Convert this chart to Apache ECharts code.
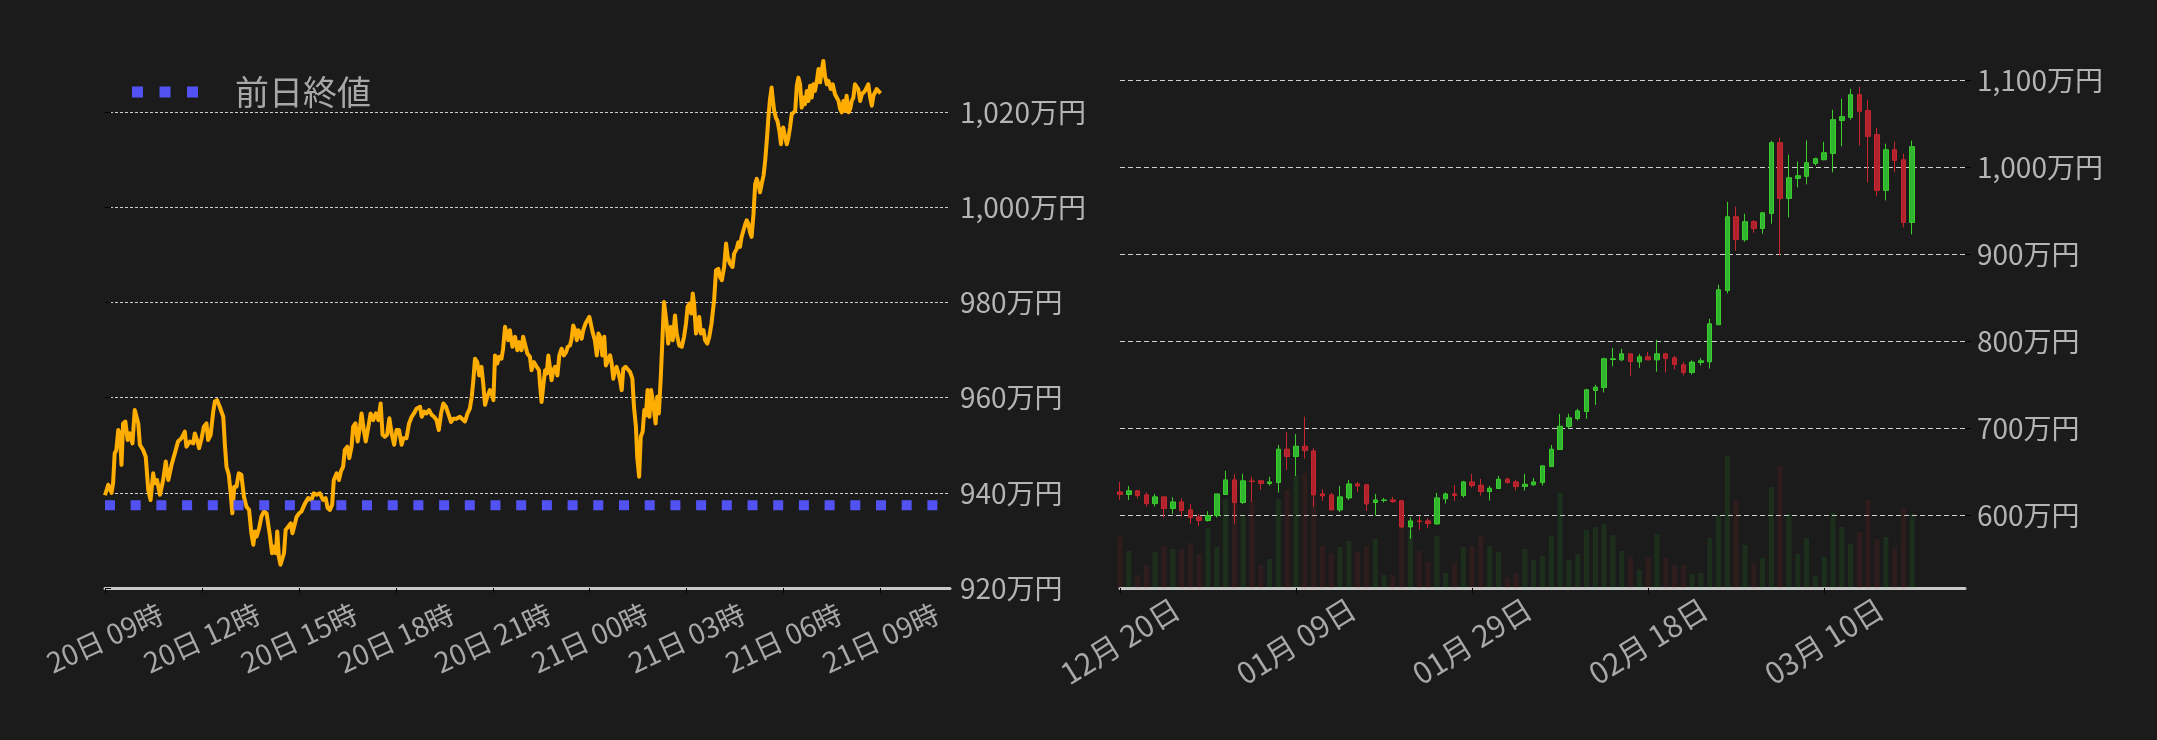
<!DOCTYPE html>
<html>
<head>
<meta charset="utf-8">
<script src="https://cdn.jsdelivr.net/npm/echarts@6/dist/echarts.min.js"></script>
<style>
html,body{margin:0;padding:0;background:#1b1b1b;}
#chart{width:2157px;height:740px;}
</style>
</head>
<body>
<div id="chart"></div>
<script>
// ---------- Left chart: intraday price (hours after 20日 09時, 万円) ----------
const startDay = 20;
const startHour = 9;
const prevCloseName = '前日終値';
const prevClose = 937.4;
const priceLine = [
[0,939.5],[0.10,941.7],[0.20,940.0],[0.25,942.0],[0.30,948.3],[0.35,949.0],[0.41,953.2],[0.46,952.5],[0.51,945.9],[0.56,954.6],
[0.63,955.0],[0.70,951.1],[0.77,952.5],[0.85,950.4],[0.92,957.4],[0.97,957.7],[1.03,954.6],[1.08,950.1],[1.18,949.0],[1.26,947.6],
[1.34,940.6],[1.41,938.5],[1.49,944.1],[1.54,942.0],[1.61,942.7],[1.70,939.6],[1.80,942.7],[1.88,946.6],[1.96,942.7],[2.06,945.9],
[2.16,948.3],[2.26,950.8],[2.37,951.5],[2.47,952.9],[2.52,949.7],[2.63,950.8],[2.73,950.4],[2.78,952.5],[2.85,951.1],[2.91,949.4],
[2.99,951.5],[3.06,953.9],[3.14,954.6],[3.19,951.1],[3.27,952.2],[3.35,957.1],[3.40,959.2],[3.47,959.5],[3.55,958.1],[3.66,956.0],
[3.71,950.1],[3.76,945.5],[3.83,943.8],[3.88,940.6],[3.94,935.7],[4.00,941.3],[4.07,941.3],[4.14,944.1],[4.22,943.8],[4.30,939.2],
[4.38,937.1],[4.46,936.4],[4.53,931.5],[4.59,929.1],[4.64,931.9],[4.69,930.8],[4.77,932.6],[4.84,935.0],[4.92,936.1],[5.00,935.7],
[5.05,936.1],[5.10,931.2],[5.17,927.3],[5.24,928.7],[5.29,927.3],[5.33,931.9],[5.38,926.6],[5.43,924.9],[5.49,924.9],[5.54,927.3],
[5.59,932.2],[5.67,932.9],[5.75,933.6],[5.80,931.5],[5.88,933.6],[5.93,935.0],[6.01,935.7],[6.08,936.1],[6.19,937.8],[6.29,938.9],
[6.39,938.5],[6.46,939.9],[6.55,939.6],[6.65,939.9],[6.75,938.5],[6.83,938.9],[6.89,936.8],[6.96,936.4],[7.03,937.5],[7.08,942.7],
[7.17,944.1],[7.24,942.7],[7.30,944.5],[7.37,945.5],[7.42,949.0],[7.50,949.7],[7.56,947.3],[7.63,949.7],[7.68,953.9],[7.75,954.6],
[7.82,950.8],[7.89,953.9],[7.94,956.7],[8.01,953.2],[8.07,950.8],[8.15,953.9],[8.22,956.7],[8.30,955.3],[8.38,956.7],[8.46,955.3],
[8.53,958.8],[8.59,952.2],[8.66,951.8],[8.73,952.2],[8.80,955.7],[8.87,952.5],[8.95,950.1],[9.02,953.2],[9.10,953.2],[9.18,950.1],
[9.23,951.5],[9.33,951.5],[9.41,954.6],[9.49,956.0],[9.56,956.7],[9.64,957.7],[9.75,958.1],[9.80,956.0],[9.88,957.1],[9.95,956.7],
[10.03,957.4],[10.11,956.4],[10.18,956.0],[10.26,955.3],[10.33,953.2],[10.40,956.7],[10.47,958.8],[10.55,958.1],[10.62,956.7],[10.71,954.9],
[10.78,955.6],[10.88,955.6],[10.98,956.0],[11.04,956.0],[11.14,955.0],[11.22,956.7],[11.29,957.7],[11.35,960.2],[11.40,963.7],[11.45,968.2],
[11.52,967.5],[11.58,964.7],[11.65,966.5],[11.71,962.6],[11.76,958.5],[11.83,960.2],[11.91,961.6],[11.97,960.9],[12.02,959.5],[12.07,968.9],
[12.14,967.2],[12.20,968.6],[12.27,968.2],[12.32,970.3],[12.38,974.9],[12.43,975.2],[12.48,972.1],[12.53,974.2],[12.61,970.7],[12.69,972.8],
[12.76,970.0],[12.82,971.7],[12.89,970.0],[12.94,972.8],[12.99,972.8],[13.07,969.3],[13.15,968.6],[13.20,965.8],[13.27,967.5],[13.36,966.5],
[13.43,965.8],[13.46,963.0],[13.51,959.1],[13.56,962.3],[13.62,965.8],[13.67,965.1],[13.72,968.9],[13.77,968.9],[13.82,963.7],[13.87,965.8],
[13.93,966.5],[14.00,964.7],[14.06,968.9],[14.13,970.3],[14.20,968.9],[14.27,969.6],[14.32,970.7],[14.39,971.0],[14.44,972.4],[14.49,975.2],
[14.55,974.2],[14.60,972.1],[14.65,974.2],[14.70,974.2],[14.75,972.4],[14.80,974.2],[14.87,975.6],[14.93,975.2],[14.99,977.0],[15.03,976.6],
[15.09,973.8],[15.16,972.1],[15.22,968.9],[15.27,973.5],[15.32,972.8],[15.39,968.9],[15.45,972.8],[15.50,966.8],[15.56,967.2],[15.63,968.9],
[15.68,967.2],[15.73,964.0],[15.78,965.8],[15.83,966.5],[15.89,965.1],[15.94,963.7],[15.99,961.6],[16.04,966.1],[16.11,966.5],[16.17,966.8],
[16.25,965.4],[16.32,964.0],[16.37,958.1],[16.43,953.9],[16.47,947.6],[16.53,943.4],[16.58,951.8],[16.64,952.9],[16.69,957.4],[16.74,956.3],
[16.79,961.6],[16.85,956.0],[16.90,961.6],[16.95,959.5],[16.99,957.4],[17.04,954.6],[17.09,960.2],[17.14,956.7],[17.20,964.4],[17.25,972.1],
[17.30,980.1],[17.33,980.5],[17.38,975.6],[17.43,971.4],[17.51,974.9],[17.57,972.1],[17.64,977.3],[17.69,973.5],[17.77,971.0],[17.85,970.7],
[17.92,972.8],[17.98,975.6],[18.03,979.1],[18.09,979.8],[18.14,977.7],[18.19,981.9],[18.23,979.8],[18.29,973.5],[18.34,974.9],[18.39,977.0],
[18.44,973.5],[18.52,974.2],[18.57,972.1],[18.64,971.4],[18.70,972.8],[18.77,975.6],[18.85,980.5],[18.91,986.8],[18.98,987.1],[19.03,985.4],
[19.09,984.7],[19.16,987.5],[19.22,992.4],[19.27,989.6],[19.34,988.2],[19.42,987.5],[19.47,990.3],[19.55,991.3],[19.60,992.7],[19.65,991.7],
[19.70,993.8],[19.76,995.2],[19.82,996.6],[19.86,997.3],[19.91,996.6],[19.96,994.8],[20.01,993.8],[20.07,998.7],[20.12,1004.9],[20.17,1006.0],
[20.22,1004.9],[20.27,1003.2],[20.32,1004.9],[20.38,1006.7],[20.43,1009.8],[20.48,1014.0],[20.53,1018.9],[20.58,1022.8],[20.63,1025.2],[20.66,1023.1],
[20.71,1020.3],[20.76,1018.9],[20.81,1018.2],[20.87,1016.1],[20.92,1013.3],[20.95,1016.1],[20.99,1016.8],[21.05,1014.7],[21.10,1013.3],[21.15,1014.7],
[21.20,1016.8],[21.25,1019.6],[21.30,1020.0],[21.36,1020.3],[21.41,1025.6],[21.46,1027.3],[21.51,1025.9],[21.56,1021.0],[21.61,1023.1],[21.66,1021.7],
[21.72,1024.5],[21.77,1022.4],[21.82,1025.6],[21.87,1023.1],[21.92,1025.9],[21.97,1024.5],[22.03,1026.6],[22.08,1029.1],[22.13,1026.3],[22.18,1028.8],
[22.23,1030.8],[22.28,1027.7],[22.34,1025.9],[22.39,1026.6],[22.46,1024.9],[22.52,1025.9],[22.59,1023.8],[22.65,1024.2],[22.70,1022.4],[22.75,1020.7],
[22.80,1020.0],[22.85,1022.4],[22.90,1020.3],[22.95,1023.5],[23.01,1020.0],[23.06,1020.7],[23.11,1022.4],[23.16,1023.1],[23.21,1025.9],[23.26,1025.6],
[23.31,1024.9],[23.37,1022.4],[23.42,1023.8],[23.47,1024.2],[23.52,1024.5],[23.57,1024.5],[23.62,1025.9],[23.68,1023.1],[23.73,1021.4],[23.78,1023.5],
[23.83,1023.8],[23.88,1024.9],[23.93,1025.2],[24.00,1024.0]
];

// ---------- Right chart: daily candles (万円) ----------
const candleDates = [
'12月 20日','12月 21日','12月 22日','12月 23日','12月 24日','12月 25日','12月 26日','12月 27日','12月 28日','12月 29日','12月 30日','12月 31日',
'01月 01日','01月 02日','01月 03日','01月 04日','01月 05日','01月 06日','01月 07日','01月 08日','01月 09日','01月 10日','01月 11日','01月 12日',
'01月 13日','01月 14日','01月 15日','01月 16日','01月 17日','01月 18日','01月 19日','01月 20日','01月 21日','01月 22日','01月 23日','01月 24日',
'01月 25日','01月 26日','01月 27日','01月 28日','01月 29日','01月 30日','01月 31日',
'02月 01日','02月 02日','02月 03日','02月 04日','02月 05日','02月 06日','02月 07日','02月 08日','02月 09日','02月 10日','02月 11日','02月 12日',
'02月 13日','02月 14日','02月 15日','02月 16日','02月 17日','02月 18日','02月 19日','02月 20日','02月 21日','02月 22日','02月 23日','02月 24日',
'02月 25日','02月 26日','02月 27日','02月 28日',
'03月 01日','03月 02日','03月 03日','03月 04日','03月 05日','03月 06日','03月 07日','03月 08日','03月 09日','03月 10日','03月 11日','03月 12日',
'03月 13日','03月 14日','03月 15日','03月 16日','03月 17日','03月 18日','03月 19日','03月 20日','03月 21日','03月 22日','03月 23日','03月 24日',
'03月 25日','03月 26日'
];
const candleOpen = [626.8,623.8,628.0,623.4,613.4,621.1,607.7,615.3,606.1,598.1,593.9,599.6,623.8,640.6,614.6,639.3,639.5,636.4,637.5,675.9,
667.4,679.3,673.9,624.5,623.4,606.1,619.9,636.0,634.9,614.6,616.9,617.6,616.5,586.6,593.5,593.5,590.0,618.8,624.5,622.6,
638.3,634.5,627.2,630.7,641.4,638.3,633.0,634.9,637.5,655.9,675.5,701.9,711.1,719.2,743.3,746.7,778.9,778.5,785.4,776.2,
782.0,778.5,785.4,780.8,772.8,764.0,775.5,776.2,818.8,858.2,942.9,916.5,937.2,929.5,946.7,1028.0,964.0,987.0,989.3,1004.2,
1008.4,1015.7,1053.6,1057.1,1083.1,1064.8,1037.2,973.2,1019.9,1008.4,936.4];
const candleClose = [623.8,628.0,622.6,613.4,621.1,607.7,615.3,605.4,597.3,593.9,599.6,624.5,640.6,614.6,639.5,638.7,636.4,638.3,675.9,667.4,
679.3,674.3,623.4,622.2,606.1,621.1,636.0,633.7,613.0,617.6,617.6,615.7,586.6,593.5,592.7,590.4,619.9,624.5,622.6,638.3,
634.1,627.2,631.0,641.4,637.5,633.0,635.6,638.3,656.7,675.9,702.3,711.9,719.9,744.1,747.1,779.7,779.7,785.4,776.6,782.0,
778.5,785.4,780.1,773.2,764.0,775.9,777.4,819.9,859.0,942.9,916.9,937.2,929.5,947.5,1028.0,964.0,987.7,990.0,1005.0,1009.6,
1016.5,1054.4,1057.9,1083.1,1064.0,1035.2,973.2,1019.9,1007.7,936.4,1023.4];
const candleLow = [617.6,617.6,619.2,610.0,610.0,597.3,601.5,598.5,590.4,587.7,592.7,597.3,623.8,590.4,613.0,615.3,629.1,634.1,626.1,652.1,
645.2,665.1,609.6,616.5,606.1,603.8,617.6,626.8,605.0,599.6,614.6,614.2,585.4,572.8,583.1,585.4,588.9,613.4,616.5,620.3,
631.8,622.6,616.9,630.7,636.4,628.4,628.4,633.7,634.1,655.9,675.5,699.6,708.8,710.7,726.8,741.0,770.9,777.0,760.2,769.3,
778.5,764.8,764.0,767.4,760.5,761.7,772.0,768.6,818.8,854.8,903.8,914.2,924.5,923.4,934.9,899.2,942.1,976.6,980.1,1001.9,
1007.7,993.9,1023.8,1054.4,1024.5,982.4,966.3,961.7,993.9,930.7,922.6];
const candleHigh = [638.3,633.7,628.5,626.4,624.5,621.1,620.7,619.5,613.0,601.5,604.6,624.5,651.0,647.5,647.5,644.1,640.6,644.1,680.8,695.4,
693.1,713.3,677.0,629.9,625.7,633.7,640.6,638.3,636.0,624.5,619.9,621.1,617.6,597.7,599.2,596.6,625.7,626.1,634.9,639.5,
647.5,641.8,633.7,645.2,643.3,640.6,647.5,642.9,656.7,680.8,716.5,716.5,722.2,745.2,749.8,781.2,792.3,791.2,785.4,785.4,
787.7,801.5,786.6,783.1,775.9,777.8,780.8,825.7,864.8,960.2,954.4,946.4,939.1,947.5,1030.3,1033.7,1014.2,1006.1,1030.7,1010.7,
1029.1,1065.9,1078.5,1090.0,1092.3,1077.4,1045.2,1026.8,1029.1,1015.3,1030.3];
const volume = [5100,3700,1300,2300,3600,4200,3900,3900,4500,3400,6000,4100,8900,8500,7300,8700,2300,2900,8900,9800,
11300,11500,8800,4200,3500,4100,4700,3600,4200,4900,1300,1300,6100,5800,3700,2600,5200,1500,2400,4100,
4200,5300,4200,3600,1100,1500,3900,2800,3200,5200,9500,2800,3400,5800,6100,6400,5300,3700,3100,1800,
3000,5400,3000,2300,2300,1400,1500,5000,7300,13200,8800,4300,2400,3000,10100,12200,7400,3400,5000,1200,
3100,7500,6100,4400,5600,8800,4900,5100,4000,8000,7400];

// ---------- helpers ----------
const FONT = "'Noto Sans CJK JP', 'Noto Sans', sans-serif";
const manYen = v => Math.round(v).toLocaleString('en-US') + '万円';
const pad2 = n => String(n).padStart(2, '0');
const hourLabel = v => {
  const t = startHour + v;
  const d = startDay + Math.floor(t / 24);
  const h = Math.round(t % 24);
  return d + '日 ' + pad2(h) + '時';
};

const leftXMax = 26.15;
const upFill = '#2fb52f', upBorder = '#3ccc2c';
const downFill = '#b0222c', downBorder = '#c8262f';

const candleData = candleOpen.map((o, i) => [o, candleClose[i], candleLow[i], candleHigh[i]]);
const volumeData = volume.map((v, i) => ({
  value: v,
  itemStyle: { color: candleClose[i] >= candleOpen[i] ? 'rgba(45,200,45,0.12)' : 'rgba(200,40,45,0.12)' }
}));

const chart = echarts.init(document.getElementById('chart'), null, { renderer: 'canvas' });
chart.setOption({
  backgroundColor: '#1b1b1b',
  animation: false,
  textStyle: { fontFamily: FONT },
  legend: {
    data: [prevCloseName],
    left: 132,
    top: 75,
    padding: 0,
    itemWidth: 66,
    itemHeight: 11,
    icon: 'path://M0 0H11V11H0Z M27.5 0H38.5V11H27.5Z M55 0H66V11H55Z',
    textStyle: { color: '#a8a8a8', fontSize: 34, fontFamily: FONT, padding: [0, 0, 0, 32] }
  },
  grid: [
    { left: 105, right: 2157 - 950, top: 60, bottom: 740 - 588, containLabel: false },
    { left: 1120, right: 2157 - 1965, top: 80, bottom: 740 - 588, containLabel: false }
  ],
  xAxis: [
    {
      gridIndex: 0, type: 'value', min: 0, max: leftXMax, interval: 3,
      axisLine: { show: true, onZero: false, lineStyle: { color: '#c8c8c8', width: 3 } },
      axisTick: { show: true, length: 5, lineStyle: { color: '#000', width: 1 } },
      axisLabel: { rotate: 25, align: 'center', verticalAlign: 'middle', margin: 50, fontSize: 28,
        color: '#a8a8a8', formatter: hourLabel, showMaxLabel: false, showMinLabel: true },
      splitLine: { show: false }
    },
    {
      gridIndex: 1, type: 'category', data: candleDates, boundaryGap: false,
      axisLine: { show: true, onZero: false, lineStyle: { color: '#c8c8c8', width: 3 } },
      axisTick: { show: true, length: 5, interval: 19, lineStyle: { color: '#000', width: 1 } },
      axisLabel: { rotate: 32, align: 'center', verticalAlign: 'middle', margin: 53, fontSize: 30,
        color: '#a8a8a8', interval: 19 },
      splitLine: { show: false }
    }
  ],
  yAxis: [
    {
      gridIndex: 0, type: 'value', position: 'right', min: 920, max: 1031, interval: 20,
      axisLine: { show: false },
      axisTick: { show: true, length: 6, lineStyle: { color: '#000' } },
      axisLabel: { color: '#b4b4b4', fontSize: 28, margin: 10, formatter: manYen, showMaxLabel: false },
      splitLine: { show: true, showMaxLine: false, lineStyle: { color: '#cfcfcf', width: 1, type: [3, 2] } }
    },
    {
      gridIndex: 1, type: 'value', position: 'right', min: 516.4, max: 1100, splitNumber: 5,
      axisLine: { show: false },
      axisTick: { show: true, length: 6, lineStyle: { color: '#000' } },
      axisLabel: { color: '#b4b4b4', fontSize: 28, margin: 12, formatter: manYen, showMinLabel: false },
      splitLine: { show: true, showMinLine: false, lineStyle: { color: '#cfcfcf', width: 1, type: [5, 3] } }
    },
    {
      gridIndex: 1, type: 'value', min: 0, max: 50770, show: false,
      splitLine: { show: false }
    }
  ],
  series: [
    {
      name: '価格', type: 'line', xAxisIndex: 0, yAxisIndex: 0,
      data: priceLine, showSymbol: false, symbol: 'none',
      lineStyle: { color: '#ffad00', width: 4, join: 'round' },
      itemStyle: { color: '#ffad00' }, z: 3
    },
    {
      name: prevCloseName, type: 'line', xAxisIndex: 0, yAxisIndex: 0,
      data: [[0, prevClose], [leftXMax, prevClose]], showSymbol: false, symbol: 'none',
      lineStyle: { color: '#5252f2', width: 10, type: [10, 15.7], cap: 'butt' },
      itemStyle: { color: '#5252f2' }, z: 4
    },
    {
      name: '出来高', type: 'bar', xAxisIndex: 1, yAxisIndex: 2,
      data: volumeData, barWidth: 5, z: 2
    },
    {
      name: 'ローソク足', type: 'candlestick', xAxisIndex: 1, yAxisIndex: 1,
      data: candleData, barWidth: 5, z: 3,
      itemStyle: { color: upFill, color0: downFill, borderColor: upBorder, borderColor0: downBorder, borderWidth: 1 }
    }
  ]
});
</script>
</body>
</html>
